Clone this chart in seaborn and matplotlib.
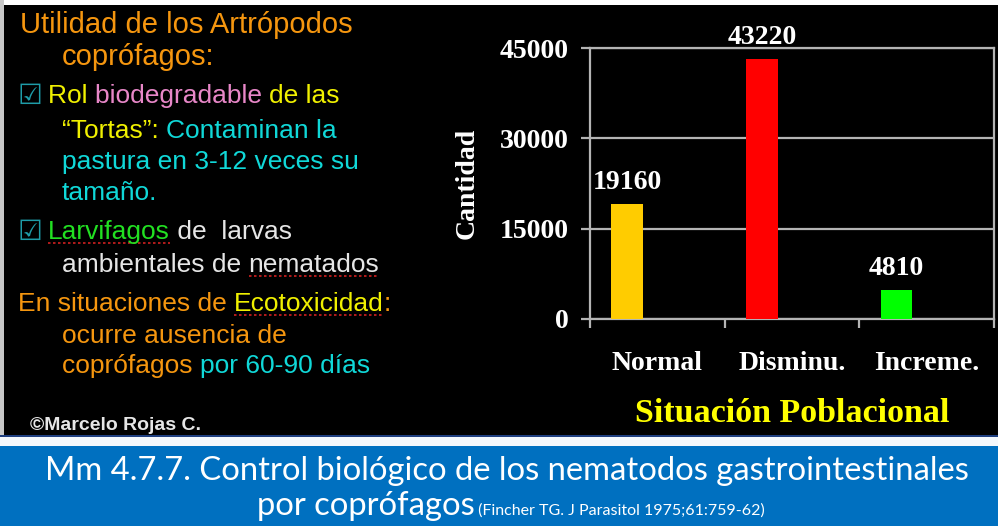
import numpy as np
import pandas as pd
import matplotlib
matplotlib.use("Agg")
import matplotlib.pyplot as plt
from matplotlib.patches import Rectangle
from matplotlib.lines import Line2D
import seaborn as sns

# ── Datos del gráfico ─────────────────────────────────────────
categorias = ["Normal", "Disminu.", "Increme."]
cantidad = [19160, 43220, 4810]
colores = ["#FFCC00", "#FF0000", "#00FF00"]
y_ticks = [0, 15000, 30000, 45000]

ORANGE, YELLOW, PINK = "#F5960F", "#F0F000", "#E887C8"
CYAN, GREEN, WHITE, TEAL = "#10D8D8", "#22E022", "#E6E6E6", "#1E9CA8"

W, H = 998, 526
sns.set_theme(style="dark", rc={"axes.facecolor": "black", "figure.facecolor": "black"})
plt.rcParams["font.family"] = ["Liberation Sans", "DejaVu Sans"]

fig = plt.figure(figsize=(W / 100, H / 100), dpi=100)
fx = lambda x: x / W
fy = lambda y: 1 - y / H

def banda(x0, y0, x1, y1, color):
    fig.add_artist(Rectangle((fx(x0), fy(y1)), (x1 - x0) / W, (y1 - y0) / H,
                             transform=fig.transFigure, color=color, zorder=0, lw=0))

banda(0, 0, W, 5, "white")
banda(0, 0, 4, 437, "#C8C8C8")
banda(0, 435, W, 437, "#1F3F80")
banda(0, 437, W, 446, "#F4F8FC")
banda(0, 446, W, H, "#0070C0")

# ── Gráfico de barras ─────────────────────────────────────────
ax = fig.add_axes([fx(590), fy(319), 404 / W, 271 / H])
df = pd.DataFrame({"situacion": categorias, "cantidad": cantidad})
sns.barplot(data=df, x="situacion", y="cantidad", hue="situacion", palette=colores,
            saturation=1, width=0.235, legend=False, ax=ax, zorder=3,
            edgecolor="none", linewidth=0)
for p in ax.patches:
    p.set_x(p.get_x() - 0.223)

GRIS = "#B4B4B4"
serif = dict(family="Liberation Serif", weight="bold")
ax.set_xlim(-0.5, 2.5)
ax.set_ylim(0, 45000)
ax.set_yticks(y_ticks)
ax.set_yticklabels([str(v) for v in y_ticks])
ax.set_xticks(range(len(categorias)))
ax.set_xticklabels(categorias)
ax.set_xticks([-0.5, 0.5, 1.5, 2.5], minor=True)
ax.yaxis.grid(True, color=GRIS, lw=1.6)
ax.xaxis.grid(False)
ax.set_axisbelow(True)
for s in ax.spines.values():
    s.set_visible(True)
    s.set_color(GRIS)
    s.set_linewidth(1.6)
ax.tick_params(axis="y", direction="out", left=True, length=6.5, width=1.6, color=GRIS,
               labelcolor="white", labelsize=20, pad=9)
ax.tick_params(axis="x", which="major", length=0, pad=23, labelcolor="white", labelsize=20)
ax.tick_params(axis="x", which="minor", bottom=True, direction="out", length=6.5,
               width=1.6, color=GRIS)
plt.setp(ax.get_xticklabels() + ax.get_yticklabels(), **serif)

for c in ax.containers:
    ax.bar_label(c, fmt="%d", padding=6.5, color="white", fontsize=20, **serif)

ax.set_xlabel("Situación Poblacional", color="#FFFF00", fontsize=24.5, va="center", **serif)
ax.xaxis.set_label_coords(0.5, -(413 - 319) / 271)
ax.set_ylabel("Cantidad", color="white", fontsize=20, va="center", **serif)
ax.yaxis.set_label_coords((467 - 590) / 404, 0.5)

# ── Texto de la diapositiva ───────────────────────────────────
renderer = fig.canvas.get_renderer()

def ancho(txt, **kw):
    t = fig.text(0, 0, txt + "|", **kw)
    w1 = t.get_window_extent(renderer).width
    t.remove()
    t = fig.text(0, 0, "|", **kw)
    w2 = t.get_window_extent(renderer).width
    t.remove()
    return w1 - w2

def linea(x, y, segs, **kw):
    for seg in segs:
        txt, color = seg[0], seg[1]
        fig.text(fx(x), fy(y), txt, color=color, va="baseline", ha="left", **kw)
        w = ancho(txt, **kw)
        if len(seg) > 2:
            wu = ancho(txt.strip(), **kw)
            fig.add_artist(Line2D([fx(x), fx(x + wu)], [fy(y + 4)] * 2, color="#D02020",
                                  lw=1.2, ls=(0, (1.5, 1.5)), transform=fig.transFigure))
        x += w
    return x

ft, fs = 21, 19
caja = dict(fontsize=20, family=["DejaVu Sans"], color=TEAL, va="baseline")
linea(20, 33, [("Utilidad de los Artrópodos", ORANGE)], fontsize=ft)
linea(62, 65, [("coprófagos:", ORANGE)], fontsize=ft)
fig.text(fx(17), fy(104), "☑", **caja)
linea(48, 103, [("Rol ", YELLOW), ("biodegradable ", PINK), ("de las", YELLOW)], fontsize=fs)
linea(62, 138, [("“Tortas”: ", YELLOW), ("Contaminan la", CYAN)], fontsize=fs)
linea(62, 169, [("pastura en 3-12 veces su", CYAN)], fontsize=fs)
linea(62, 200, [("tamaño.", CYAN)], fontsize=fs)
fig.text(fx(17), fy(240), "☑", **caja)
linea(48, 239, [("Larvifagos", GREEN, True), (" de  larvas", WHITE)], fontsize=fs)
linea(62, 272, [("ambientales de ", WHITE), ("nematados", WHITE, True)], fontsize=fs)
linea(18, 311, [("En situaciones de ", ORANGE), ("Ecotoxicidad", YELLOW, True), (":", ORANGE)],
      fontsize=fs)
linea(62, 343, [("ocurre ausencia de", ORANGE)], fontsize=fs)
linea(62, 373, [("coprófagos ", ORANGE), ("por 60-90 días", CYAN)], fontsize=fs)
fig.text(fx(30), fy(430), "©Marcelo Rojas C.", color=WHITE, fontsize=14, weight="bold",
         va="baseline")

# ── Banda inferior ────────────────────────────────────────────
tit = "Mm 4.7.7. Control biológico de los nematodos gastrointestinales"
fs_t = 22 * 921 / ancho(tit, fontsize=22, family="Lato")
fig.text(fx(507), fy(480), tit, color="white", fontsize=fs_t, family="Lato",
         ha="center", va="baseline")
p1, p2 = "por coprófagos", " (Fincher TG. J Parasitol 1975;61:759-62)"
w1 = ancho(p1, fontsize=fs_t, family="Lato")
fs_r = 11.5
w2 = ancho(p2, fontsize=fs_r, family="Lato")
x0 = 511 - (w1 + w2) / 2
fig.text(fx(x0), fy(515), p1, color="white", fontsize=fs_t, family="Lato", va="baseline")
fig.text(fx(x0 + w1), fy(515), p2, color="white", fontsize=fs_r, family="Lato", va="baseline")

plt.savefig("out.png", dpi=100, facecolor="black")
